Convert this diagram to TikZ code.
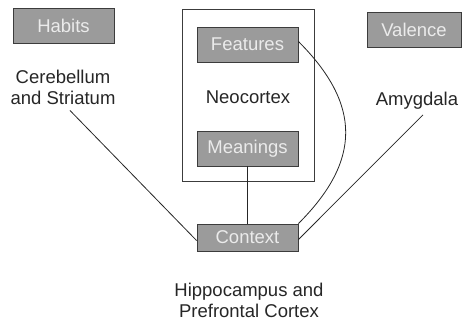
\documentclass[tikz,border=0pt]{standalone}
\usepackage{fontspec}
\setmainfont{Liberation Sans}
\usetikzlibrary{positioning}
\definecolor{boxgray}{RGB}{155,155,155}
\definecolor{edgegray}{RGB}{60,60,60}
\begin{document}
\begin{tikzpicture}[x=1pt, y=-1pt,
        every node/.style={font=\fontsize{18.5}{21}\selectfont, text=black!85},
        area/.style={draw=edgegray, fill=boxgray, line width=0.9pt,
            minimum width=101pt, minimum height=35pt, inner sep=0pt,
            text=white!92!black},
        region/.style={align=center, inner sep=0pt},
        link/.style={line width=0.8pt, black!85}]
        \useasboundingbox (0,0) rectangle (463,329);
        % Neocortex frame
        \draw[edgegray, line width=0.9pt] (182,9) rectangle (314,181);
        \node[region] (neo) at (248,97) {Neocortex};
        % Boxes
        \node[area] (habits) at (63.5,25.5) {Habits};
        \node[area, minimum width=94pt, minimum height=35pt] (valence) at (414,30) {Valence};
        \node[area] (feat) at (247.5,44.5) {Features};
        \node[area] (mean) at (247.5,148.5) {Meanings};
        \node[area, minimum height=27pt] (ctx) at (247.5,237.5) {Context};
        % Regions
        \node[region] (cereb) at (63,87) {Cerebellum\\and Striatum};
        \node[region] (amyg) at (417,101) {Amygdala};
        \node[region] (hippo) at (249,300) {Hippocampus and\\Prefrontal Cortex};
        % Links
        \draw[link] ([xshift=7pt, yshift=-6pt]cereb.south) -- ([yshift=-3pt]ctx.west);
        \draw[link] ([xshift=6pt, yshift=-5pt]amyg.south) -- ([yshift=-2pt]ctx.east);
        \draw[link] (mean.south) -- (ctx.north);
        \draw[link] ([yshift=3pt]feat.east)
            .. controls +(63,63) and +(63,-63) .. (ctx.north east);
    \end{tikzpicture}
\end{document}
